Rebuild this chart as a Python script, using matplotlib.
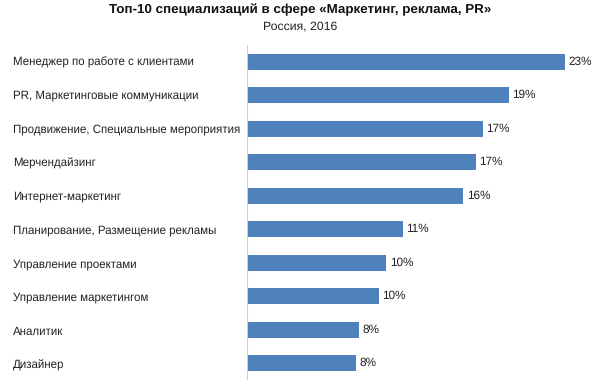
import matplotlib
matplotlib.use("Agg")
import matplotlib.pyplot as plt

categories = [
    "Менеджер по работе с клиентами",
    "PR, Маркетинговые коммуникации",
    "Продвижение, Специальные мероприятия",
    "Мерчендайзинг",
    "Интернет-маркетинг",
    "Планирование, Размещение рекламы",
    "Управление проектами",
    "Управление маркетингом",
    "Аналитик",
    "Дизайнер",
]
values = [23.1, 19.0, 17.1, 16.6, 15.7, 11.3, 10.1, 9.55, 8.1, 7.9]
labels = ["23%", "19%", "17%", "17%", "16%", "11%", "10%", "10%", "8%", "8%"]

plt.rcParams['font.family'] = ['Liberation Sans', 'DejaVu Sans']
plt.rcParams['text.hinting'] = 'none'

fig = plt.figure(figsize=(6, 3.8), dpi=100)
ax = fig.add_axes([247/600, 0.0, 350/600, 1 - 45/380])
y = list(range(len(categories)))
ax.barh(y, values, height=0.49, color="#4F81BD", edgecolor="none")
ax.set_ylim(len(categories) - 0.5, -0.5)
ax.set_xlim(0, 25.4)
for yi, v, lab in zip(y, values, labels):
    ax.text(v + 0.25, yi, lab, va="center", ha="left", fontsize=8.5, color="#222222")
ax.set_yticks(y)
ax.set_yticklabels([])
for yi, c in zip(y, categories):
    fig.text(13/600, 1 - (62 + yi * 33.67) / 380, c, ha="left", va="center", fontsize=8.3, color="#222222")
ax.tick_params(left=False, bottom=False, labelbottom=False)
for s in ["top", "right", "bottom"]:
    ax.spines[s].set_visible(False)
ax.spines["left"].set_color("#D0D0D0")
ax.spines["left"].set_linewidth(0.8)

fig.text(0.5, 1 - 10/380, "Топ-10 специализаций в сфере «Маркетинг, реклама, PR»", ha="center", va="center",
         fontsize=9.6, fontweight="bold", color="#111111")
fig.text(0.5, 1 - 26/380, "Россия, 2016", ha="center", va="center", fontsize=8.8, color="#222222")

fig.savefig("out.png", dpi=100)
